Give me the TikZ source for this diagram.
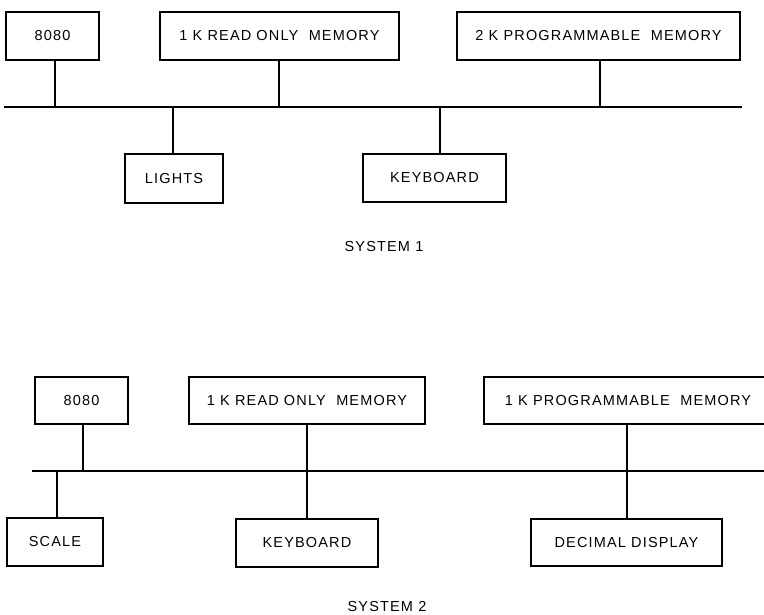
\documentclass[tikz,border=0pt]{standalone}
\usepackage{fontspec}
\setmainfont{Liberation Sans}[LetterSpace=8]
\begin{document}
\begin{tikzpicture}[x=1pt,y=1pt,
  every node/.style={font=\fontsize{14.5}{17}\selectfont, inner sep=0pt},
  unitbox/.style={draw, line width=1.6pt, rectangle},
  wire/.style={line width=1.6pt},
  caption/.style={}]
\useasboundingbox (0,0) rectangle (764,-614);
\clip (0,0) rectangle (764,-614);
\fill[white] (0,0) rectangle (764,-614);
% ---------- System 1 ----------
\node[unitbox, minimum width=93pt, minimum height=48pt] (s1cpu) at (52.5,-36) {8080};
\node[unitbox, minimum width=239pt, minimum height=48pt] (s1rom) at (279.5,-36) {1 K READ ONLY\ \ MEMORY};
\node[unitbox, minimum width=283pt, minimum height=48pt] (s1pm) at (598.5,-36) {2 K PROGRAMMABLE\ \ MEMORY};
\coordinate (b1l) at (4,-107);
\coordinate (b1r) at (742,-107);
\draw[wire] (b1l) -- (b1r);
\node[unitbox, minimum width=98pt, minimum height=49pt] (s1lights) at (174,-178.5) {LIGHTS};
\node[unitbox, minimum width=143pt, minimum height=48pt] (s1kb) at (434.5,-178) {KEYBOARD};
\draw[wire] ([xshift=2.5pt]s1cpu.south) -- ([xshift=2.5pt]s1cpu.south |- b1l);
\draw[wire] ([xshift=-0.5pt]s1rom.south) -- ([xshift=-0.5pt]s1rom.south |- b1l);
\draw[wire] ([xshift=1.5pt]s1pm.south) -- ([xshift=1.5pt]s1pm.south |- b1l);
\draw[wire] ([xshift=-1pt]s1lights.north) -- ([xshift=-1pt]s1lights.north |- b1l);
\draw[wire] ([xshift=5.5pt]s1kb.north) -- ([xshift=5.5pt]s1kb.north |- b1l);
\node[caption] (cap1) at (384,-247) {SYSTEM 1};
% ---------- System 2 ----------
\node[unitbox, minimum width=93pt, minimum height=47pt] (s2cpu) at (81.5,-400.5) {8080};
\node[unitbox, minimum width=236pt, minimum height=47pt] (s2rom) at (307,-400.5) {1 K READ ONLY\ \ MEMORY};
\node[unitbox, minimum width=288pt, minimum height=47pt] (s2pm) at (628,-400.5) {1 K PROGRAMMABLE\ \ MEMORY};
\coordinate (b2l) at (32,-471);
\coordinate (b2r) at (770,-471);
\draw[wire] (b2l) -- (b2r);
\node[unitbox, minimum width=96pt, minimum height=48pt] (s2scale) at (55,-542) {SCALE};
\node[unitbox, minimum width=142pt, minimum height=48pt] (s2kb) at (307,-543) {KEYBOARD};
\node[unitbox, minimum width=191pt, minimum height=47pt] (s2dd) at (626.5,-542.5) {DECIMAL DISPLAY};
\draw[wire] ([xshift=1.5pt]s2cpu.south) -- ([xshift=1.5pt]s2cpu.south |- b2l);
\draw[wire] (s2rom.south) -- (s2rom.south |- b2l);
\draw[wire] ([xshift=-1pt]s2pm.south) -- ([xshift=-1pt]s2pm.south |- b2l);
\draw[wire] ([xshift=2pt]s2scale.north) -- ([xshift=2pt]s2scale.north |- b2l);
\draw[wire] (s2kb.north) -- (s2kb.north |- b2l);
\draw[wire] ([xshift=0.5pt]s2dd.north) -- ([xshift=0.5pt]s2dd.north |- b2l);
\node[caption] (cap2) at (387,-607) {SYSTEM 2};
\end{tikzpicture}
\end{document}
